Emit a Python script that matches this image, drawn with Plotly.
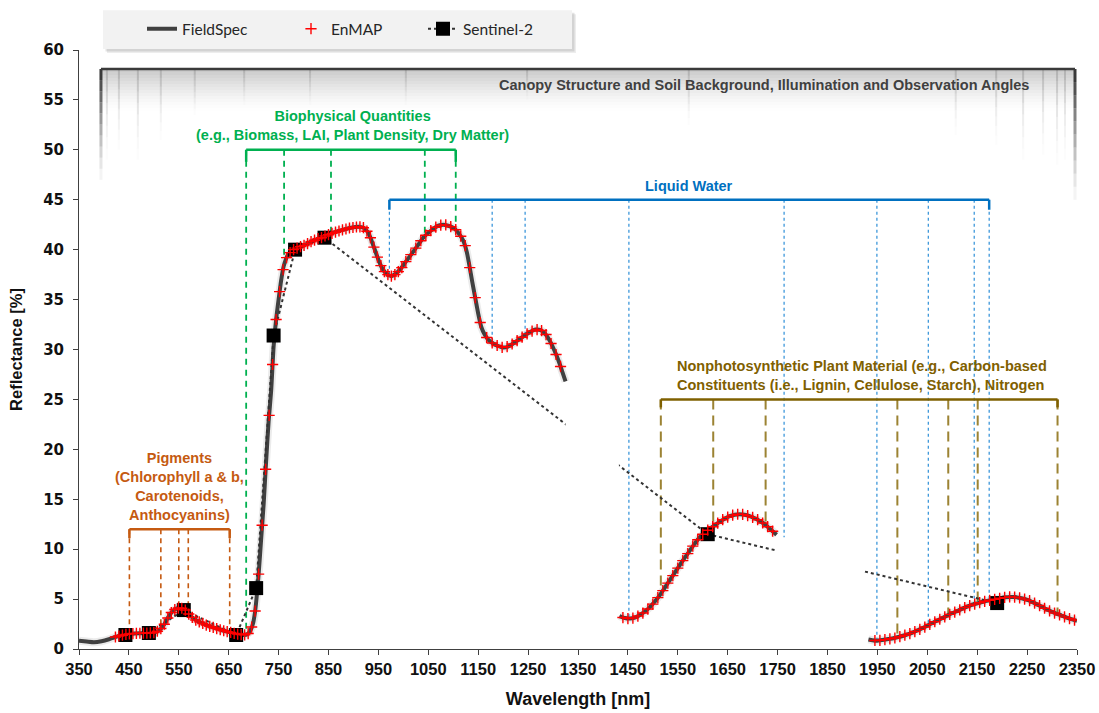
import plotly.graph_objects as go

# ---------------- DATA ----------------
# FieldSpec spectrum (three segments, water-absorption bands removed)
fs1_wl = [350, 365, 380, 395, 410, 420, 430, 440, 450, 460, 475, 490, 500, 510, 520, 530, 540, 550, 560,
          568, 576, 586, 596, 610, 622, 635, 649, 660, 670, 680, 688, 694, 699, 703, 706, 710, 715, 720,
          725, 730, 735, 740, 745, 750, 755, 760, 765, 770, 780, 790, 800, 815, 830, 845, 860, 880, 895,
          910, 920, 928, 935, 942, 950, 958, 966, 975, 985, 995, 1005, 1017, 1030, 1040, 1055, 1070,
          1080, 1090, 1100, 1110, 1120, 1127, 1132, 1138, 1144, 1150, 1156, 1163, 1170, 1180, 1190,
          1200, 1210, 1220, 1230, 1240, 1252, 1265, 1275, 1284, 1292, 1300, 1307, 1313, 1319, 1325]
fs1_r = [0.82, 0.75, 0.68, 0.78, 0.98, 1.15, 1.3, 1.42, 1.52, 1.56, 1.58, 1.6, 1.65, 1.85, 2.4, 3.3, 3.9,
         4.1, 4.05, 3.6, 3.2, 2.85, 2.6, 2.3, 2.12, 1.9, 1.72, 1.58, 1.48, 1.4, 1.5, 1.9, 2.6, 3.8, 5.2,
         7.5, 11.0, 14.5, 18.8, 22.8, 25.8, 30.3, 33.0, 35.0, 36.9, 38.3, 39.1, 39.6, 40.0, 40.2, 40.4,
         40.8, 41.1, 41.4, 41.7, 42.0, 42.2, 42.3, 42.2, 41.8, 41.1, 40.1, 39.0, 38.1, 37.6, 37.35,
         37.6, 38.1, 38.8, 39.6, 40.5, 41.2, 41.9, 42.4, 42.5, 42.4, 42.2, 41.7, 40.9, 39.8, 38.5,
         36.8, 35.2, 33.6, 32.3, 31.5, 31.0, 30.6, 30.35, 30.2, 30.3, 30.6, 30.95, 31.3, 31.7, 32.0,
         31.95, 31.6, 31.0, 30.2, 29.4, 28.6, 27.7, 26.8]
fs2_wl = [1433, 1444, 1454, 1464, 1474, 1484, 1494, 1504, 1514, 1524, 1534, 1544, 1554, 1564, 1574, 1584,
          1594, 1604, 1614, 1624, 1634, 1644, 1654, 1664, 1674, 1684, 1694, 1704, 1715, 1724, 1731, 1740, 1748]
fs2_r = [3.3, 3.1, 3.05, 3.15, 3.4, 3.75, 4.2, 4.75, 5.4, 6.15, 6.9, 7.65, 8.4, 9.15, 9.85, 10.55, 11.2,
         11.65, 12.05, 12.4, 12.75, 13.05, 13.3, 13.45, 13.5, 13.45, 13.3, 13.1, 12.8, 12.5, 12.2, 11.8, 11.45]
fs3_wl = [1932, 1940, 1948, 1960, 1972, 1982, 1992, 2005, 2018, 2031, 2045, 2058, 2072, 2085, 2098, 2112,
          2125, 2138, 2152, 2165, 2179, 2192, 2206, 2216, 2226, 2239, 2252, 2265, 2279, 2292, 2306, 2319,
          2332, 2345, 2350]
fs3_r = [0.96, 0.88, 0.83, 0.9, 1.0, 1.08, 1.2, 1.38, 1.6, 1.88, 2.2, 2.55, 2.9, 3.22, 3.55, 3.85, 4.15,
         4.4, 4.6, 4.78, 4.92, 5.05, 5.18, 5.22, 5.2, 5.08, 4.9, 4.6, 4.25, 3.9, 3.6, 3.35, 3.1, 2.9, 2.82]

# EnMAP simulated bands
enmap_wl = [423, 430, 437, 444, 451, 458, 465, 472, 479, 486, 493, 500, 507, 514, 521, 528, 535, 542, 549,
            556, 563, 570, 577, 584, 591, 598, 605, 612, 619, 626, 633, 640, 647, 654, 661, 668, 675, 682,
            689, 696, 703, 710, 717, 724, 731, 738, 745, 752, 759, 766, 773, 780, 787, 794, 801, 808, 815,
            822, 829, 836, 843, 850, 857, 864, 871, 878, 885, 892, 899, 906, 913, 920, 927, 934, 941, 948,
            955, 962, 969, 976, 983, 990, 997,
            1005, 1015, 1025, 1035, 1045, 1055, 1065, 1075, 1085, 1095, 1105, 1115, 1124, 1133, 1144, 1154,
            1167, 1178, 1188, 1198, 1208, 1218, 1228, 1238, 1248, 1258, 1268, 1277, 1286, 1296, 1306, 1315,
            1440, 1450, 1460, 1470, 1480, 1490, 1500, 1510, 1520, 1530, 1540, 1550, 1560, 1570, 1580, 1590,
            1600, 1610, 1620, 1630, 1640, 1650, 1660, 1670, 1680, 1690, 1700, 1710, 1720, 1730, 1740,
            1945, 1955, 1965, 1975, 1985, 1995, 2005, 2015, 2025, 2035, 2045, 2055, 2065, 2075, 2085, 2095,
            2105, 2115, 2125, 2135, 2145, 2155, 2165, 2175, 2185, 2195, 2205, 2215, 2225, 2235, 2245, 2255,
            2265, 2275, 2285, 2295, 2305, 2315, 2325, 2335, 2345]
enmap_r = [1.2, 1.3, 1.38, 1.46, 1.52, 1.55, 1.57, 1.58, 1.59, 1.6, 1.61, 1.65, 1.78, 2.05, 2.48, 3.1, 3.65,
           3.95, 4.1, 4.08, 3.9, 3.5, 3.17, 2.9, 2.72, 2.56, 2.4, 2.27, 2.16, 2.05, 1.93, 1.83, 1.74, 1.66,
           1.57, 1.5, 1.44, 1.42, 1.55, 2.2, 3.8, 7.5, 12.4, 18.0, 23.4, 28.5, 33.0, 35.8, 38.0, 39.2, 39.7,
           40.0, 40.15, 40.3, 40.42, 40.6, 40.8, 40.95, 41.1, 41.2, 41.37, 41.5, 41.63, 41.75, 41.87, 41.98,
           42.07, 42.17, 42.22, 42.27, 42.28, 42.2, 41.85, 41.2, 40.25, 39.25, 38.4, 37.8, 37.5, 37.35,
           37.5, 37.8, 38.2,
           38.8, 39.5, 40.15, 40.9, 41.45, 41.9, 42.25, 42.45, 42.48, 42.3, 42.0, 41.35, 40.4, 38.2, 35.2,
           32.7, 31.2, 30.65, 30.4, 30.22, 30.28, 30.55, 30.88, 31.23, 31.57, 31.85, 32.0, 31.9, 31.5, 30.6,
           29.5, 28.3,
           3.15, 3.05, 3.1, 3.3, 3.6, 4.0, 4.5, 5.15, 5.85, 6.6, 7.35, 8.1, 8.85, 9.55, 10.3, 10.95, 11.5,
           11.9, 12.25, 12.6, 12.95, 13.2, 13.4, 13.5, 13.48, 13.35, 13.18, 12.95, 12.62, 12.25, 11.8,
           0.85, 0.87, 0.94, 1.02, 1.1, 1.24, 1.38, 1.55, 1.75, 1.97, 2.2, 2.47, 2.73, 2.98, 3.22, 3.47,
           3.7, 3.92, 4.15, 4.35, 4.5, 4.64, 4.78, 4.88, 4.98, 5.08, 5.17, 5.22, 5.2, 5.12, 5.0, 4.85, 4.6,
           4.35, 4.08, 3.82, 3.6, 3.42, 3.22, 3.05, 2.9]

# Sentinel-2 bands
s2_wl = [443, 490, 560, 665, 705, 740, 783, 842, 1610, 2190]
s2_r = [1.4, 1.6, 3.9, 1.4, 6.1, 31.4, 40.0, 41.2, 11.5, 4.6]

# Axis ticks
x_ticks = list(range(350, 2351, 100))
y_ticks = list(range(0, 61, 5))

# ---------------- ANNOTATION LAYOUT (positions, not data) ----------------
pig = dict(lines=[451, 514, 550, 569, 652], ends=[1.9, 2.2, 4.3, 3.8, 1.9], top=12.0,
           color='#C55A11', dash='5px,4px', width=1.6)
bio = dict(lines=[685, 761, 855, 1043, 1105], ends=[1.6, 39.3, 41.5, 41.3, 42.4], top=50.0,
           color='#00B050', dash='6px,5px', width=1.8)
wat = dict(lines=[972, 1178, 1244, 1452, 1763, 1949, 2052, 2144, 2174],
           ends=[37.6, 30.6, 31.4, 3.2, 11.2, 0.9, 2.4, 4.5, 4.9], top=45.0,
           color='#2E8FD8', dash='dot', width=1.2, bracket_color='#0070C0')
npv = dict(lines=[1516, 1621, 1726, 1990, 2092, 2151, 2311], ends=[5.5, 12.3, 12.6, 1.3, 3.5, 4.5, 3.7],
           top=25.0, color='#9C8333', dash='10px,6px', width=2.0, bracket_color='#7F6000')

canopy_lines = [(406, 49), (430, 50), (468, 49), (514, 51), (582, 53.5), (681, 54.5), (813, 54.5),
                (1005, 54.5), (1248, 55), (1572, 52.5), (2107, 51.5), (2188, 50.5), (2242, 49),
                (2282, 49.5), (2310, 48.5), (2326, 49)]
canopy_x0, canopy_x1, canopy_top = 394, 2346, 58.1

AX_FONT = 'Liberation Sans, Arial, sans-serif'
ANN_SIZE = 14.5

fig = go.Figure()


def joined(*segs):
    out = []
    for i, s in enumerate(segs):
        if i:
            out.append(None)
        out.extend(s)
    return out


fs_x = joined(fs1_wl, fs2_wl, fs3_wl)
fs_y = joined(fs1_r, fs2_r, fs3_r)

# soft shadow under the FieldSpec line
fig.add_trace(go.Scatter(x=fs_x, y=fs_y, mode='lines', line=dict(color='rgba(0,0,0,0.08)', width=8,
                                                                   shape='spline', smoothing=0.6),
                         hoverinfo='skip', showlegend=False))
fig.add_trace(go.Scatter(x=fs_x, y=fs_y, mode='lines', name='FieldSpec',
                         line=dict(color='#404040', width=4, shape='spline', smoothing=0.6),
                         legend='legend'))
fig.add_trace(go.Scatter(x=s2_wl, y=s2_r, mode='lines+markers', name='Sentinel-2',
                         line=dict(color='#333333', width=2, dash='dot'),
                         marker=dict(symbol='square', size=14, color='black'),
                         legend='legend3'))
fig.add_trace(go.Scatter(x=enmap_wl, y=enmap_r, mode='markers', name='EnMAP',
                         marker=dict(symbol='cross-thin', size=8, line=dict(color='#FF0000', width=1.4)),
                         legend='legend2'))

shapes = []

# canopy box gradient
n = 14
for i in range(n):
    y1 = canopy_top - i * 0.3
    shapes.append(dict(type='rect', xref='x', yref='y', x0=canopy_x0, x1=canopy_x1, y0=y1 - 0.3, y1=y1,
                       fillcolor='#8a8a8a', opacity=0.45 * (1 - i / n) ** 1.5, line_width=0, layer='below'))


def fading_line(x, top, bottom, color, width, a0, k=8, p=1.6):
    h = (top - bottom) / k
    for i in range(k):
        shapes.append(dict(type='line', xref='x', yref='y', x0=x, x1=x, y0=top - i * h, y1=top - (i + 1) * h,
                           line=dict(color=color, width=width), opacity=a0 * (1 - i / k) ** p, layer='below'))


for x, b in canopy_lines:
    fading_line(x, canopy_top, b, '#9a9a9a', 2, 0.5)
fading_line(canopy_x0, canopy_top, 47, '#3a3a3a', 3, 1.0, k=10, p=1.3)
fading_line(canopy_x1, canopy_top, 45, '#3a3a3a', 3, 1.0, k=10, p=1.3)
shapes.append(dict(type='line', xref='x', yref='y', x0=canopy_x0, x1=canopy_x1, y0=canopy_top, y1=canopy_top,
                   line=dict(color='#3a3a3a', width=2.5), layer='below'))


def bracket(cfg, tick=0.9):
    bc = cfg.get('bracket_color', cfg['color'])
    xs = cfg['lines']
    for x, e in zip(xs, cfg['ends']):
        shapes.append(dict(type='line', xref='x', yref='y', x0=x, x1=x, y0=cfg['top'], y1=e,
                           line=dict(color=cfg['color'], width=cfg['width'], dash=cfg['dash']), layer='below'))
    shapes.append(dict(type='line', xref='x', yref='y', x0=xs[0], x1=xs[-1], y0=cfg['top'], y1=cfg['top'],
                       line=dict(color=bc, width=2.5), layer='below'))
    for x in (xs[0], xs[-1]):
        shapes.append(dict(type='line', xref='x', yref='y', x0=x, x1=x, y0=cfg['top'], y1=cfg['top'] - tick,
                           line=dict(color=bc, width=2.5), layer='below'))


bracket(pig)
bracket(bio, 1.2)
bracket(wat, 1.0)
bracket(npv, 0.8)

# white masks interrupting the Sentinel-2 connector over gaps
shapes.append(dict(type='rect', xref='x', yref='y', x0=1325, x1=1432, y0=16.0, y1=25.0,
                   fillcolor='white', line_width=0, layer='above'))
shapes.append(dict(type='rect', xref='x', yref='y', x0=1748, x1=1921, y0=7.0, y1=10.5,
                   fillcolor='white', line_width=0, layer='above'))


# legend box with shadow (paper coords)
def px2paper(px, py):
    return (px - 79) / 998, (649 - py) / 603


for off, a in ((4, 0.07), (2.5, 0.11)):
    x0, y0 = px2paper(103 + off, 45 + off)
    x1, y1 = px2paper(572 + off, 6 + off)
    shapes.append(dict(type='rect', xref='paper', yref='paper', x0=x0, x1=x1, y0=y0, y1=y1,
                       fillcolor=f'rgba(0,0,0,{a})', line_width=0, layer='below'))
x0, y0 = px2paper(103, 45)
x1, y1 = px2paper(572, 6)
shapes.append(dict(type='rect', xref='paper', yref='paper', x0=x0, x1=x1, y0=y0, y1=y1,
                   fillcolor='#F2F2F2', line_width=0, layer='below'))

annotations = [
    dict(x=2258, y=56.5, xref='x', yref='y', xanchor='right', yanchor='middle', showarrow=False,
         text='<b>Canopy Structure and Soil Background, Illumination and Observation Angles</b>',
         font=dict(family=AX_FONT, size=ANN_SIZE, color='#404040')),
    dict(x=899, y=52.4, xref='x', yref='y', xanchor='center', yanchor='middle', showarrow=False,
         text='<b>Biophysical Quantities<br>(e.g., Biomass, LAI, Plant Density, Dry Matter)</b>',
         font=dict(family=AX_FONT, size=ANN_SIZE, color='#00B050')),
    dict(x=1572, y=46.4, xref='x', yref='y', xanchor='center', yanchor='middle', showarrow=False,
         text='<b>Liquid Water</b>', font=dict(family=AX_FONT, size=ANN_SIZE, color='#0070C0')),
    dict(x=552, y=16.3, xref='x', yref='y', xanchor='center', yanchor='middle', showarrow=False,
         text='<b>Pigments<br>(Chlorophyll a &amp; b,<br>Carotenoids,<br>Anthocyanins)</b>',
         font=dict(family=AX_FONT, size=ANN_SIZE, color='#C55A11')),
    dict(x=1544, y=27.4, xref='x', yref='y', xanchor='left', yanchor='middle', showarrow=False, align='left',
         text='<b>Nonphotosynthetic Plant Material (e.g., Carbon-based<br>'
              'Constituents (i.e., Lignin, Cellulose, Starch), Nitrogen</b>',
         font=dict(family=AX_FONT, size=ANN_SIZE, color='#7F6000')),
]

leg_common = dict(orientation='h', yanchor='middle', xanchor='left', bgcolor='rgba(0,0,0,0)',
                  borderwidth=0, font=dict(family='Lato, Open Sans, sans-serif', size=15.5, color='#262626'))
ly = (649 - 25) / 603

fig.update_layout(
    width=1099, height=713,
    margin=dict(l=79, r=22, t=46, b=64),
    plot_bgcolor='white', paper_bgcolor='white',
    shapes=shapes, annotations=annotations,
    legend=dict(x=(142 - 79) / 998, y=ly, **leg_common),
    legend2=dict(x=(291 - 79) / 998, y=ly, **leg_common),
    legend3=dict(x=(423 - 79) / 998, y=ly, **leg_common),
)
fig.update_xaxes(range=[350, 2350], tickvals=x_ticks, ticktext=[str(v) for v in x_ticks],
                 ticks='outside', ticklen=5, tickcolor='#404040', showline=True, linecolor='#404040',
                 linewidth=1, showgrid=False, zeroline=False, automargin=False,
                 tickfont=dict(family=AX_FONT, size=16.5, color='#111111', weight='bold'),
                 title=dict(text='Wavelength [nm]', standoff=15,
                            font=dict(family=AX_FONT, size=18, color='#111111', weight='bold')))
fig.update_yaxes(range=[0, 60], tickvals=y_ticks, ticks='outside', ticklen=5, tickcolor='#404040',
                 showline=True, linecolor='#404040', linewidth=1, showgrid=False, zeroline=False,
                 automargin=False, ticklabelstandoff=6,
                 tickfont=dict(family='DejaVu Sans', size=15, color='#111111', weight='bold'),
                 title=dict(text='Reflectance [%]', standoff=16,
                            font=dict(family=AX_FONT, size=16.5, color='#111111', weight='bold')))

fig.write_html('out.html')
